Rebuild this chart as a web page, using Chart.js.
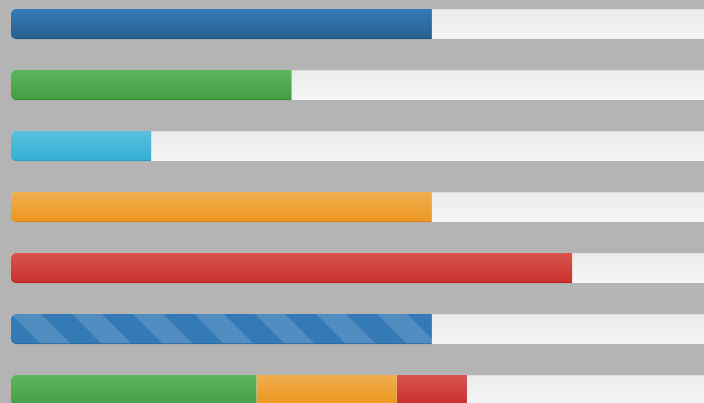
<!DOCTYPE html>
<html>
<head>
<meta charset="utf-8">
<script src="https://cdn.jsdelivr.net/npm/chart.js@4.4.1/dist/chart.umd.min.js"></script>
<style>
  html, body { margin: 0; padding: 0; background: #b4b4b4; width: 704px; height: 403px; overflow: hidden; }
  #wrap { position: absolute; left: 0; top: -7px; width: 722px; height: 428px; }
</style>
</head>
<body>
<div id="wrap"><canvas id="c"></canvas></div>
<script>
// Progress bars (percent of full track)
const categories = ['Primary', 'Success', 'Info', 'Warning', 'Danger', 'Striped', 'Stacked'];
const values = [60, 40, 20, 60, 80, 60, 35];          // first segment of each bar
const stackedWarning = [null, null, null, null, null, null, 20];
const stackedDanger = [null, null, null, null, null, null, 10];
const trackMax = 100;

const colorTop = ['#337ab7', '#5cb85c', '#5bc0de', '#f0ad4e', '#d9534f', '#337ab7', '#5cb85c'];
const colorBottom = ['#286090', '#449d44', '#31b0d5', '#ec971f', '#c9302c', '#337ab7', '#449d44'];
const colorEdge = ['#22527a', '#3a853a', '#2a96b5', '#c9801a', '#ab2925', '#2b689c', '#3a853a'];
const stripedIndex = 5;
const BAR = 30;

function bandGradient(ctx, c1, c2) {
  const chart = ctx.chart;
  if (!chart.chartArea) return c1;
  const yc = chart.scales.y.getPixelForValue(ctx.dataIndex);
  const g = chart.ctx.createLinearGradient(0, yc - BAR / 2, 0, yc + BAR / 2);
  g.addColorStop(0, c1);
  g.addColorStop(1, c2);
  return g;
}

let stripeCache = null;
function stripedFill(ctx) {
  const chart = ctx.chart;
  if (!chart.chartArea) return colorTop[stripedIndex];
  const key = chart.width + 'x' + chart.height;
  if (stripeCache && stripeCache.key === key) return stripeCache.pat;
  const yc = chart.scales.y.getPixelForValue(stripedIndex);
  const x0 = chart.scales.x.getPixelForValue(0);
  const y0 = yc - BAR / 2;
  const tile = document.createElement('canvas');
  tile.width = chart.width; tile.height = chart.height;
  const t = tile.getContext('2d');
  t.fillStyle = colorTop[stripedIndex];
  t.fillRect(0, y0 - 2, tile.width, BAR + 4);
  t.save();
  t.beginPath(); t.rect(0, y0 - 2, tile.width, BAR + 4); t.clip();
  t.fillStyle = 'rgba(255,255,255,0.15)';
  const period = 61, w = 30;
  for (let s = x0 - 2 * period; s < tile.width + period; s += period) {
    t.beginPath();
    t.moveTo(s - 2, y0 - 2);
    t.lineTo(s + w - 2, y0 - 2);
    t.lineTo(s + w + BAR + 2, y0 + BAR + 2);
    t.lineTo(s + BAR + 2, y0 + BAR + 2);
    t.closePath();
    t.fill();
  }
  t.restore();
  const pat = chart.ctx.createPattern(tile, 'no-repeat');
  stripeCache = { key, pat };
  return pat;
}

const mainData = values.map(v => [0, v]);
const warnData = stackedWarning.map((v, i) => v == null ? null : [values[i], values[i] + v]);
const dangerData = stackedDanger.map((v, i) => v == null ? null : [values[i] + stackedWarning[i], values[i] + stackedWarning[i] + v]);
const trackData = categories.map(() => [0, trackMax]);

const leftRadius = { topLeft: 5, bottomLeft: 5, topRight: 0, bottomRight: 0 };
const noRadius = { topLeft: 0, bottomLeft: 0, topRight: 0, bottomRight: 0 };
const bottomBorder = { top: 0, left: 0, right: 0, bottom: 1 };

new Chart(document.getElementById('c'), {
  type: 'bar',
  data: {
    labels: categories,
    datasets: [
      {
        label: 'Progress',
        data: mainData,
        order: 1,
        grouped: false,
        barThickness: BAR,
        borderSkipped: false,
        borderRadius: leftRadius,
        borderWidth: bottomBorder,
        borderColor: colorEdge,
        backgroundColor: ctx => ctx.dataIndex === stripedIndex ? stripedFill(ctx)
          : bandGradient(ctx, colorTop[ctx.dataIndex], colorBottom[ctx.dataIndex])
      },
      {
        label: 'Warning',
        data: warnData,
        order: 1,
        grouped: false,
        barThickness: BAR,
        borderSkipped: false,
        borderRadius: noRadius,
        borderWidth: bottomBorder,
        borderColor: '#c9801a',
        backgroundColor: ctx => bandGradient(ctx, '#f0ad4e', '#ec971f')
      },
      {
        label: 'Danger',
        data: dangerData,
        order: 1,
        grouped: false,
        barThickness: BAR,
        borderSkipped: false,
        borderRadius: noRadius,
        borderWidth: bottomBorder,
        borderColor: '#ab2925',
        backgroundColor: ctx => bandGradient(ctx, '#d9534f', '#c9302c')
      },
      {
        label: 'Track',
        data: trackData,
        order: 2,
        grouped: false,
        barThickness: BAR,
        borderSkipped: false,
        borderRadius: 5,
        borderWidth: { top: 1, left: 0, right: 0, bottom: 0 },
        borderColor: '#dadada',
        backgroundColor: ctx => bandGradient(ctx, '#ebebeb', '#f5f5f5')
      }
    ]
  },
  options: {
    indexAxis: 'y',
    responsive: true,
    maintainAspectRatio: false,
    animation: false,
    layout: { padding: { left: 11, right: 9.5, top: 0.5, bottom: 0.5 } },
    scales: {
      x: { display: false, min: 0, max: trackMax },
      y: { display: false }
    },
    plugins: { legend: { display: false }, tooltip: { enabled: false } }
  }
});
</script>
</body>
</html>
